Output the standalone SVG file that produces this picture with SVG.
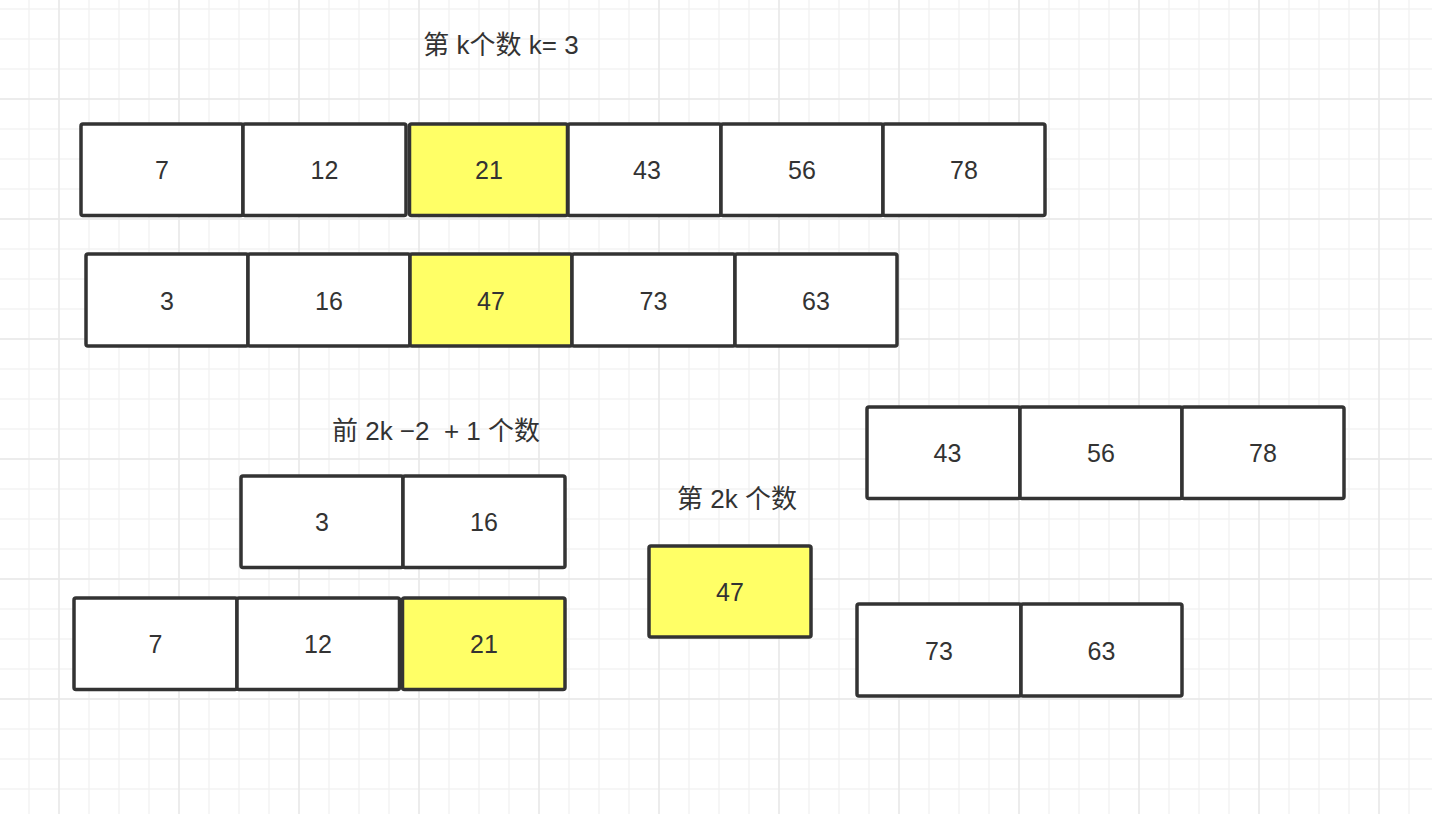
<svg xmlns="http://www.w3.org/2000/svg" width="1432" height="814" viewBox="0 0 1432 814">
<defs>
<pattern id="minor" patternUnits="userSpaceOnUse" x="14" y="-6" width="30" height="30"><path d="M15 0V30M0 15H30" stroke="#f3f3f3" stroke-width="1.5" fill="none"/></pattern>
<pattern id="major" patternUnits="userSpaceOnUse" x="-1" y="39" width="120" height="120"><path d="M60 0V120M0 60H120" stroke="#e9e9e9" stroke-width="1.5" fill="none"/></pattern>
</defs>
<style>
.c{fill:#ffffff;stroke:#333333;stroke-width:3.5}
.y{fill:#ffff66;stroke:#333333;stroke-width:3.5}
.t{font-family:"Liberation Sans",Arial,"Noto Sans CJK SC",sans-serif;font-size:25px;fill:#333333;text-anchor:middle}
.l{font-family:"Liberation Sans",Arial,"Noto Sans CJK SC",sans-serif;font-size:26px;fill:#333333;text-anchor:middle;white-space:pre}
</style>
<rect width="1432" height="814" fill="#ffffff"/>
<rect width="1432" height="814" fill="url(#minor)"/>
<rect width="1432" height="814" fill="url(#major)"/>
<g id="labels">
<text class="l" x="501" y="54" xml:space="preserve">第 k个数 k= 3</text>
<text class="l" x="436" y="440" xml:space="preserve">前 2k −2  + 1 个数</text>
<text class="l" x="737" y="508" xml:space="preserve">第 2k 个数</text>
</g>
<g id="array1">
<g id="a1-0"><rect class="c" x="81" y="124" width="162" height="91.5" rx="2"/><text class="t" x="162" y="179">7</text></g>
<g id="a1-1"><rect class="c" x="243" y="124" width="163" height="91.5" rx="2"/><text class="t" x="324.5" y="179">12</text></g>
<g id="a1-2"><rect class="y" x="409.5" y="124" width="158" height="91.5" rx="2"/><text class="t" x="489" y="179">21</text></g>
<g id="a1-3"><rect class="c" x="568" y="124" width="153" height="91.5" rx="2"/><text class="t" x="647" y="179">43</text></g>
<g id="a1-4"><rect class="c" x="721" y="124" width="162" height="91.5" rx="2"/><text class="t" x="802" y="179">56</text></g>
<g id="a1-5"><rect class="c" x="883" y="124" width="162" height="91.5" rx="2"/><text class="t" x="964" y="179">78</text></g>
</g>
<g id="array2">
<g id="a2-0"><rect class="c" x="86" y="254" width="162" height="92" rx="2"/><text class="t" x="167" y="309.5">3</text></g>
<g id="a2-1"><rect class="c" x="248" y="254" width="162" height="92" rx="2"/><text class="t" x="329" y="309.5">16</text></g>
<g id="a2-2"><rect class="y" x="410" y="254" width="162" height="92" rx="2"/><text class="t" x="491" y="309.5">47</text></g>
<g id="a2-3"><rect class="c" x="572" y="254" width="163" height="92" rx="2"/><text class="t" x="653.5" y="309.5">73</text></g>
<g id="a2-4"><rect class="c" x="735" y="254" width="162" height="92" rx="2"/><text class="t" x="816" y="309.5">63</text></g>
</g>
<g id="prefix2">
<g id="p2-0"><rect class="c" x="241" y="476" width="162" height="91.5" rx="2"/><text class="t" x="322" y="531">3</text></g>
<g id="p2-1"><rect class="c" x="403" y="476" width="162" height="91.5" rx="2"/><text class="t" x="484" y="531">16</text></g>
</g>
<g id="prefix1">
<g id="p1-0"><rect class="c" x="74" y="598" width="163" height="91.5" rx="2"/><text class="t" x="155.5" y="653">7</text></g>
<g id="p1-1"><rect class="c" x="237" y="598" width="162.5" height="91.5" rx="2"/><text class="t" x="318" y="653">12</text></g>
<g id="p1-2"><rect class="y" x="402.5" y="598" width="162.5" height="91.5" rx="2"/><text class="t" x="484" y="653">21</text></g>
</g>
<g id="kth">
<rect class="y" x="649" y="546" width="162" height="91" rx="2"/><text class="t" x="730" y="601">47</text>
</g>
<g id="rest1">
<g id="r1-0"><rect class="c" x="867" y="407" width="153" height="91.5" rx="2"/><text class="t" x="947.5" y="462">43</text></g>
<g id="r1-1"><rect class="c" x="1020" y="407" width="162" height="91.5" rx="2"/><text class="t" x="1101" y="462">56</text></g>
<g id="r1-2"><rect class="c" x="1182" y="407" width="162" height="91.5" rx="2"/><text class="t" x="1263" y="462">78</text></g>
</g>
<g id="rest2">
<g id="r2-0"><rect class="c" x="857" y="604" width="164" height="92" rx="2"/><text class="t" x="939" y="659.5">73</text></g>
<g id="r2-1"><rect class="c" x="1021" y="604" width="161" height="92" rx="2"/><text class="t" x="1101.5" y="659.5">63</text></g>
</g>
<g id="connectors"/>
</svg>
